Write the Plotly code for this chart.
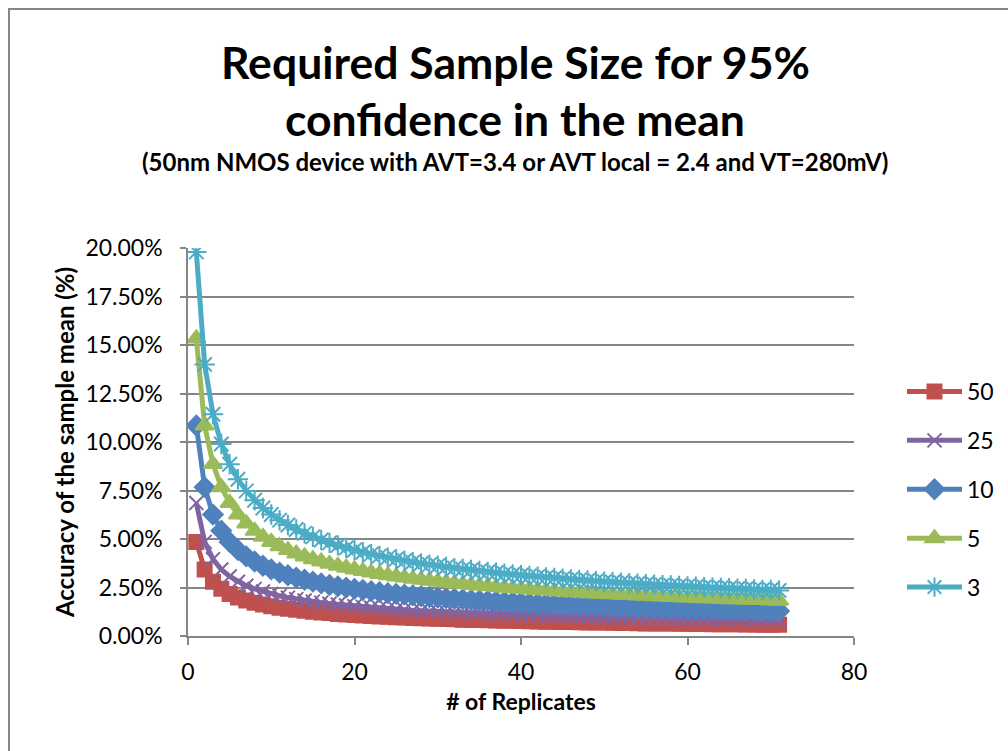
import plotly.graph_objects as go

replicates = list(range(1, 72))

s50 = [4.85, 3.43, 2.80, 2.43, 2.17, 1.98, 1.83, 1.71, 1.62, 1.53, 1.46, 1.40, 1.35, 1.30, 1.25, 1.21, 1.18, 1.14, 1.11, 1.08,
       1.06, 1.03, 1.01, 0.99, 0.97, 0.95, 0.93, 0.92, 0.90, 0.89, 0.87, 0.86, 0.84, 0.83, 0.82, 0.81, 0.80, 0.79, 0.78, 0.77,
       0.76, 0.75, 0.74, 0.73, 0.72, 0.72, 0.71, 0.70, 0.69, 0.69, 0.68, 0.67, 0.67, 0.66, 0.65, 0.65, 0.64, 0.64, 0.63, 0.63,
       0.62, 0.62, 0.61, 0.61, 0.60, 0.60, 0.59, 0.59, 0.58, 0.58, 0.58]
s25 = [6.86, 4.85, 3.96, 3.43, 3.07, 2.80, 2.59, 2.43, 2.29, 2.17, 2.07, 1.98, 1.90, 1.83, 1.77, 1.72, 1.66, 1.62, 1.57, 1.53,
       1.50, 1.46, 1.43, 1.40, 1.37, 1.35, 1.32, 1.30, 1.27, 1.25, 1.23, 1.21, 1.19, 1.18, 1.16, 1.14, 1.13, 1.11, 1.10, 1.08,
       1.07, 1.06, 1.05, 1.03, 1.02, 1.01, 1.00, 0.99, 0.98, 0.97, 0.96, 0.95, 0.94, 0.93, 0.92, 0.92, 0.91, 0.90, 0.89, 0.89,
       0.88, 0.87, 0.86, 0.86, 0.85, 0.84, 0.84, 0.83, 0.83, 0.82, 0.81]
s10 = [10.85, 7.67, 6.26, 5.43, 4.85, 4.43, 4.10, 3.84, 3.62, 3.43, 3.27, 3.13, 3.01, 2.90, 2.80, 2.71, 2.63, 2.56, 2.49, 2.43,
       2.37, 2.31, 2.26, 2.21, 2.17, 2.13, 2.09, 2.05, 2.01, 1.98, 1.95, 1.92, 1.89, 1.86, 1.83, 1.81, 1.78, 1.76, 1.74, 1.72,
       1.69, 1.67, 1.65, 1.64, 1.62, 1.60, 1.58, 1.57, 1.55, 1.53, 1.52, 1.50, 1.49, 1.48, 1.46, 1.45, 1.44, 1.42, 1.41, 1.40,
       1.39, 1.38, 1.37, 1.36, 1.35, 1.34, 1.33, 1.32, 1.31, 1.30, 1.29]
s5 = [15.34, 10.85, 8.86, 7.67, 6.86, 6.26, 5.80, 5.42, 5.11, 4.85, 4.63, 4.43, 4.25, 4.10, 3.96, 3.84, 3.72, 3.62, 3.52, 3.43,
      3.35, 3.27, 3.20, 3.13, 3.07, 3.01, 2.95, 2.90, 2.85, 2.80, 2.76, 2.71, 2.67, 2.63, 2.59, 2.56, 2.52, 2.49, 2.46, 2.43,
      2.40, 2.37, 2.34, 2.31, 2.29, 2.26, 2.24, 2.21, 2.19, 2.17, 2.15, 2.13, 2.11, 2.09, 2.07, 2.05, 2.03, 2.01, 2.00, 1.98,
      1.96, 1.95, 1.93, 1.92, 1.90, 1.89, 1.87, 1.86, 1.85, 1.83, 1.82]
s3 = [19.80, 14.00, 11.43, 9.90, 8.85, 8.08, 7.48, 7.00, 6.60, 6.26, 5.97, 5.72, 5.49, 5.29, 5.11, 4.95, 4.80, 4.67, 4.54, 4.43,
      4.32, 4.22, 4.13, 4.04, 3.96, 3.88, 3.81, 3.74, 3.68, 3.62, 3.56, 3.50, 3.45, 3.40, 3.35, 3.30, 3.26, 3.21, 3.17, 3.13,
      3.09, 3.06, 3.02, 2.99, 2.95, 2.92, 2.89, 2.86, 2.83, 2.80, 2.77, 2.75, 2.72, 2.69, 2.67, 2.65, 2.62, 2.60, 2.58, 2.56,
      2.54, 2.51, 2.49, 2.48, 2.46, 2.44, 2.42, 2.40, 2.38, 2.37, 2.35]

series_names = ["50", "25", "10", "5", "3"]
series_values = [s50, s25, s10, s5, s3]
colors = ["#C0504D", "#8064A2", "#4F81BD", "#9BBB59", "#4BACC6"]
symbols = ["square", "x-thin-open", "diamond", "triangle-up", "asterisk-open"]
sizes = [14, 14, 15, 16, 17]

y_ticks = [0, 2.5, 5, 7.5, 10, 12.5, 15, 17.5, 20]
y_ticktext = ["%.2f%%" % v for v in y_ticks]
x_ticks = [0, 20, 40, 60, 80]

FONT = "Lato, 'Open Sans', sans-serif"

fig = go.Figure()
for name, vals, c, sym, sz in zip(series_names, series_values, colors, symbols, sizes):
    fig.add_trace(go.Scatter(
        x=replicates, y=vals, name=name, mode="lines+markers",
        line=dict(color=c, width=5),
        marker=dict(symbol=sym, size=sz, color=c, line=dict(color=c, width=2)),
        legendgroup=name,
    ))

L, R, T, B = 188, 154, 248, 115
W, H = 1008, 751
pw, ph = W - L - R, H - T - B

def px(x):
    return (x - L) / pw

def py(y):
    return (H - B - y) / ph

annotations = [
    dict(text="<b>Required Sample Size for 95%</b>", x=px(515), y=py(62), font=dict(size=44.5, family=FONT, color="#000")),
    dict(text="<b>confidence in the mean</b>", x=px(515), y=py(118), font=dict(size=44.5, family=FONT, color="#000")),
    dict(text="<b>(50nm NMOS device with AVT=3.4 or AVT local = 2.4 and VT=280mV)</b>", x=px(515), y=py(162),
         font=dict(size=24, family=FONT, color="#000")),
]
for a in annotations:
    a.update(xref="paper", yref="paper", showarrow=False, xanchor="center", yanchor="middle")

fig.update_layout(
    width=W, height=H,
    margin=dict(l=L, r=R, t=T, b=B, autoexpand=False),
    paper_bgcolor="white", plot_bgcolor="white",
    font=dict(family=FONT, size=23, color="#000"),
    annotations=annotations,
    showlegend=True,
    legend=dict(xref="container", yref="container", x=902 / W, y=1 - 370 / H,
                xanchor="left", yanchor="top",
                font=dict(size=23, family=FONT), itemwidth=55,
                tracegroupgap=16, bgcolor="rgba(0,0,0,0)"),
    xaxis=dict(range=[0, 80], tickvals=x_ticks, showgrid=False, zeroline=False, automargin=False,
               showline=True, linecolor="#868686", linewidth=1.5,
               ticks="outside", ticklen=7, tickcolor="#868686", tickwidth=1.5,
               tickfont=dict(size=23), ticklabelstandoff=8,
               title=dict(text="<b># of Replicates</b>", font=dict(size=23), standoff=10)),
    yaxis=dict(range=[0, 20], tickvals=y_ticks, ticktext=y_ticktext, showgrid=True, automargin=False,
               gridcolor="#868686", gridwidth=1.5, zeroline=False,
               showline=True, linecolor="#868686", linewidth=1.5,
               ticks="outside", ticklen=6, tickcolor="#868686", tickwidth=1.5,
               tickfont=dict(size=23), ticklabelstandoff=13,
               title=dict(text="<b>Accuracy of the sample mean (%)</b>", font=dict(size=24), standoff=4)),
    shapes=[dict(type="rect", xref="paper", yref="paper", x0=px(9), x1=px(1030), y0=py(790), y1=py(9),
                 line=dict(color="#868686", width=2), fillcolor="rgba(0,0,0,0)", layer="below")],
)

fig.write_html("out.html")
